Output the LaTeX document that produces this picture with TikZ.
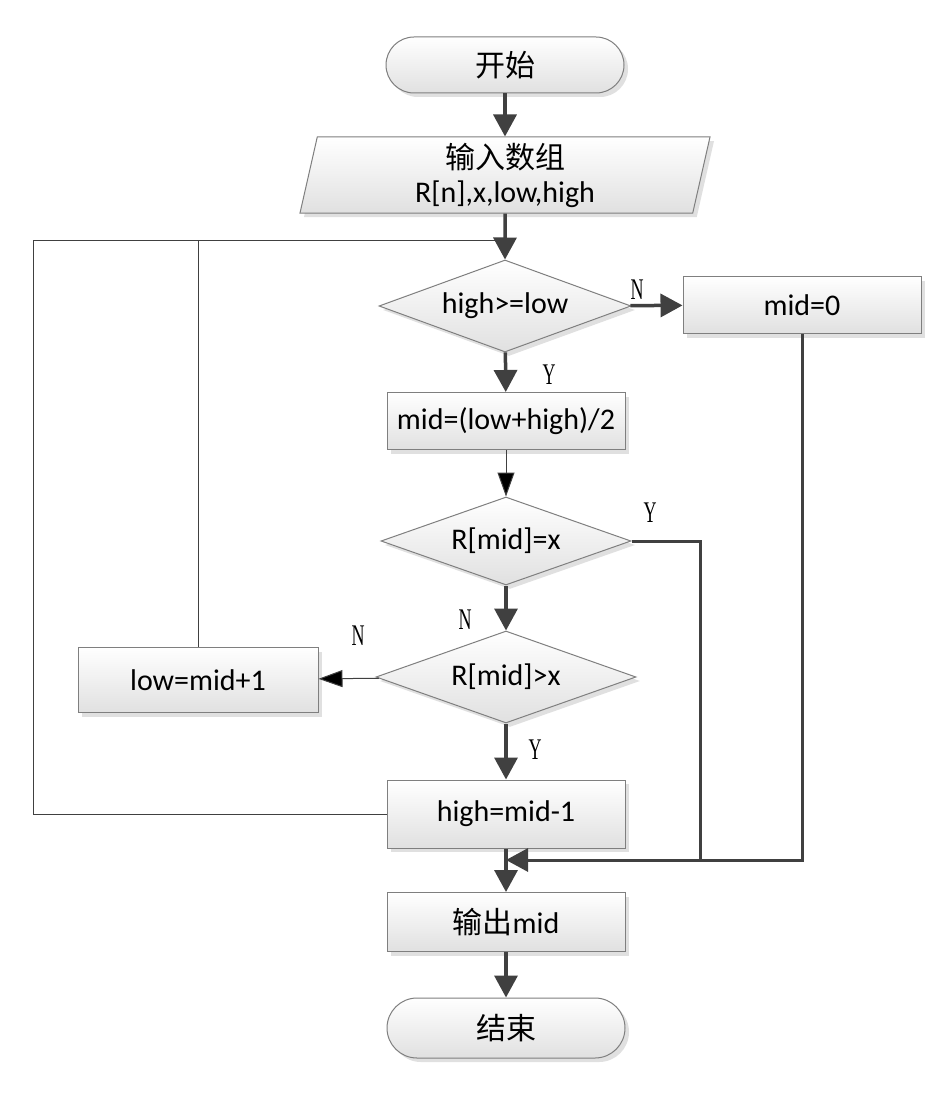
\documentclass[tikz,border=0pt]{standalone}
\usepackage{fontspec}
\setmainfont{Carlito}
\newfontfamily\cjk{Noto Sans CJK SC}
\newfontfamily\ynfont{Liberation Serif}
\usetikzlibrary{arrows.meta,shapes.geometric,shadows}
\definecolor{ink}{HTML}{404040}
\definecolor{rim}{HTML}{7F7F7F}

\begin{document}
\begin{tikzpicture}[x=1pt,y=-1pt,every node/.style={font=\fontsize{30}{34}\selectfont},
blk/.style={draw=rim,line width=1pt,top color=white,bottom color=black!12,
  drop shadow={shadow xshift=4pt,shadow yshift=-4pt,fill=black!12,opacity=1},
  minimum width=238pt,inner sep=0pt},
term/.style={blk,rounded corners=28pt},
io/.style={blk,trapezium,trapezium left angle=75,trapezium right angle=105,trapezium stretches body},
test/.style={blk,diamond,aspect=2.7},
yn/.style={font=\fontsize{30}{30}\selectfont\ynfont},
main/.style={line width=3.5pt,draw=ink,-{Triangle[length=22pt,width=23pt]}},
thin/.style={line width=1pt,draw=ink,-{Triangle[length=24pt,width=17pt,fill=black]}}]
\fill[white] (0,0) rectangle (945,1097);
\useasboundingbox (0,0) rectangle (945,1097);
\node[term,minimum height=56pt] (start) at (505,65) {\cjk 开始};
\node[io,minimum width=410pt,minimum height=76pt,align=center] (input) at (505,175) {{\cjk 输入数组}\\R[n],x,low,high};
\node[test,minimum width=252pt,minimum height=92pt] (d1) at (505,306) {high>=low};
\node[blk,minimum height=57pt] (mid0) at (802,305) {mid=0};
\node[blk,minimum height=57pt] (calc) at (506,421) {mid=(low+high)/2};
\node[test,minimum width=250pt,minimum height=88pt] (d2) at (506,541) {R[mid]=x};
\node[test,minimum width=260pt,minimum height=92pt] (d3) at (506,677) {R[mid]>x};
\node[blk,minimum width=240pt,minimum height=65pt] (low) at (198,680) {low=mid+1};
\node[blk,minimum height=68pt] (high) at (506,814) {high=mid-1};
\node[blk,minimum height=59pt] (out) at (506,922) {{\cjk 输出}mid};
\node[term,minimum height=60pt,rounded corners=30pt] (end) at (506,1028) {\cjk 结束};
\coordinate (top) at (505,240);
\coordinate (corner) at (33,240);
\coordinate (merge) at (506,860);
\coordinate (join) at (700,860);
\draw[main] (start) -- (input);
\draw[main] (input) -- (d1);
\draw[main] (d1) -- (mid0);
\draw[main] (d1) -- (calc);
\draw[thin] (calc) -- (d2);
\draw[main] (d2) -- (d3);
\draw[thin] (d3) -- (low);
\draw[main] (d3) -- (high);
\draw[main] (high) -- (out);
\draw[main] (out) -- (end);
\draw[line width=3pt,draw=ink] (d2.east) -| (join);
\draw[main,line width=3pt] (mid0.south) |- (merge);
\draw[line width=1pt,draw=ink] (high.west) -| (corner) -- (top);
\draw[line width=1pt,draw=ink] (low.north) -- (low.north |- top);
\node[yn] (n1) at (637,290) {\scalebox{.6}[1]{N}};
\node[yn] (y1) at (549,375) {\scalebox{.6}[1]{Y}};
\node[yn] (y2) at (650,513) {\scalebox{.6}[1]{Y}};
\node[yn] (n2) at (465,620) {\scalebox{.6}[1]{N}};
\node[yn] (n3) at (358,636) {\scalebox{.6}[1]{N}};
\node[yn] (y3) at (535,750) {\scalebox{.6}[1]{Y}};
\end{tikzpicture}
\end{document}
